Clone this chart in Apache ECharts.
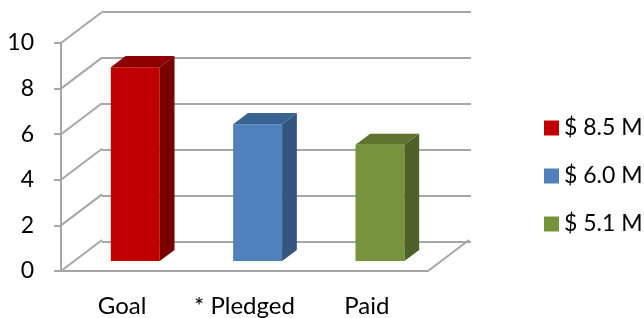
<!DOCTYPE html>
<html>
<head>
<meta charset="utf-8">
<title>Goal / Pledged / Paid</title>
<script src="https://cdn.jsdelivr.net/npm/echarts@6/dist/echarts.min.js"></script>
<style>
  html, body { margin: 0; padding: 0; background: #fff; }
  #chart { width: 644px; height: 318px; }
</style>
</head>
<body>
<div id="chart"></div>
<script>
// data
var categories = ["Goal", "* Pledged", "Paid"];
var amounts = [8.5, 6.0, 5.1];
var legendNames = ["$ 8.5 M", "$ 6.0 M", "$ 5.1 M"];
var yTicks = [0, 2, 4, 6, 8, 10];

// colours: front, top, side
var shades = [
  ["#C00000", "#8E0000", "#7A0000"],
  ["#4F81BD", "#3A6392", "#34557F"],
  ["#77933C", "#5E752F", "#4D6027"]
];

var DX = 41, DY = -31;      // depth of the 3d box
var D0 = 0.32, D1 = 0.68;   // bar depth (front / back) as part of the box
var BAR_RATIO = 0.4;
var GRID_COLOR = "#A6A6A6";
var FONT = "Lato";

var chart = echarts.init(document.getElementById("chart"));

// 3d bar (front, top, side faces)
function renderBar(params, api) {
  var c = shades[params.seriesIndex];
  var base = api.coord([api.value(0), 0]);
  var top = api.coord([api.value(0), api.value(1)]);
  var w = api.size([1, 0])[0] * BAR_RATIO;
  var x0 = base[0] - w / 2 + DX * D0;
  var x1 = x0 + w;
  var yb = base[1] + DY * D0;
  var yt = top[1] + DY * D0;
  var sx = DX * (D1 - D0), sy = DY * (D1 - D0);
  return {
    type: "group",
    children: [
      { type: "rect", shape: { x: x0, y: yt, width: w, height: yb - yt }, style: { fill: c[0] } },
      { type: "polygon", shape: { points: [[x0, yt], [x1, yt], [x1 + sx, yt + sy], [x0 + sx, yt + sy]] }, style: { fill: c[1] } },
      { type: "polygon", shape: { points: [[x1, yt], [x1 + sx, yt + sy], [x1 + sx, yb + sy], [x1, yb]] }, style: { fill: c[2] } }
    ]
  };
}

// side wall lines from the front axis ticks to the back wall
function renderWall(params, api) {
  var y = api.coord([0, api.value(0)])[1];
  var x = params.coordSys.x;
  var lines = [{ type: "line", shape: { x1: x, y1: y, x2: x + DX, y2: y + DY }, style: { stroke: GRID_COLOR, lineWidth: 2 } }];
  if (api.value(0) === 0) {
    // right edge of the floor
    var xr = params.coordSys.x + params.coordSys.width;
    lines.push({ type: "line", shape: { x1: xr, y1: y, x2: xr + DX, y2: y + DY }, style: { stroke: GRID_COLOR, lineWidth: 2 } });
  }
  return { type: "group", children: lines };
}

var series = [];
for (var i = 0; i < amounts.length; i++) {
  series.push({
    name: legendNames[i],
    type: "custom",
    xAxisIndex: 0,
    yAxisIndex: 0,
    z: 5,
    itemStyle: { color: shades[i][0] },
    renderItem: renderBar,
    data: [[i, amounts[i]]]
  });
}
series.push({
  type: "custom",
  xAxisIndex: 0,
  yAxisIndex: 0,
  z: 1,
  silent: true,
  renderItem: renderWall,
  data: yTicks.map(function (v) { return [v]; })
});

var option = {
  backgroundColor: "#fff",
  animation: false,
  textStyle: { fontFamily: FONT },
  grid: [
    { left: 61, top: 43, width: 367, height: 230 },   // front plane
    { left: 102, top: 12, width: 369, height: 230 }   // back wall
  ],
  legend: {
    orient: "vertical",
    left: 539,
    top: 111,
    icon: "rect",
    itemWidth: 15,
    itemHeight: 15,
    itemGap: 24,
    textStyle: { color: "#000", fontSize: 23, lineHeight: 24, fontFamily: FONT },
    data: legendNames
  },
  xAxis: [
    {
      type: "category",
      gridIndex: 0,
      data: categories,
      axisLine: { lineStyle: { color: GRID_COLOR, width: 2 } },
      axisTick: { length: 7, lineStyle: { color: GRID_COLOR, width: 2 } },
      axisLabel: { color: "#000", fontSize: 24, margin: 23, interval: 0, hideOverlap: false, fontFamily: FONT }
    },
    { type: "category", gridIndex: 1, data: categories, show: false }
  ],
  yAxis: [
    {
      type: "value",
      gridIndex: 0,
      min: 0,
      max: 10,
      interval: 2,
      axisLine: { show: true, lineStyle: { color: GRID_COLOR, width: 2 } },
      axisTick: { show: true, length: 7, lineStyle: { color: GRID_COLOR, width: 2 } },
      axisLabel: { color: "#000", fontSize: 23, margin: 27, fontFamily: FONT },
      splitLine: { show: false }
    },
    {
      type: "value",
      gridIndex: 1,
      min: 0,
      max: 10,
      interval: 2,
      axisLine: { show: false },
      axisTick: { show: false },
      axisLabel: { show: false },
      splitLine: { show: true, lineStyle: { color: GRID_COLOR, width: 2 } }
    }
  ],
  series: series
};

chart.setOption(option);
</script>
</body>
</html>
